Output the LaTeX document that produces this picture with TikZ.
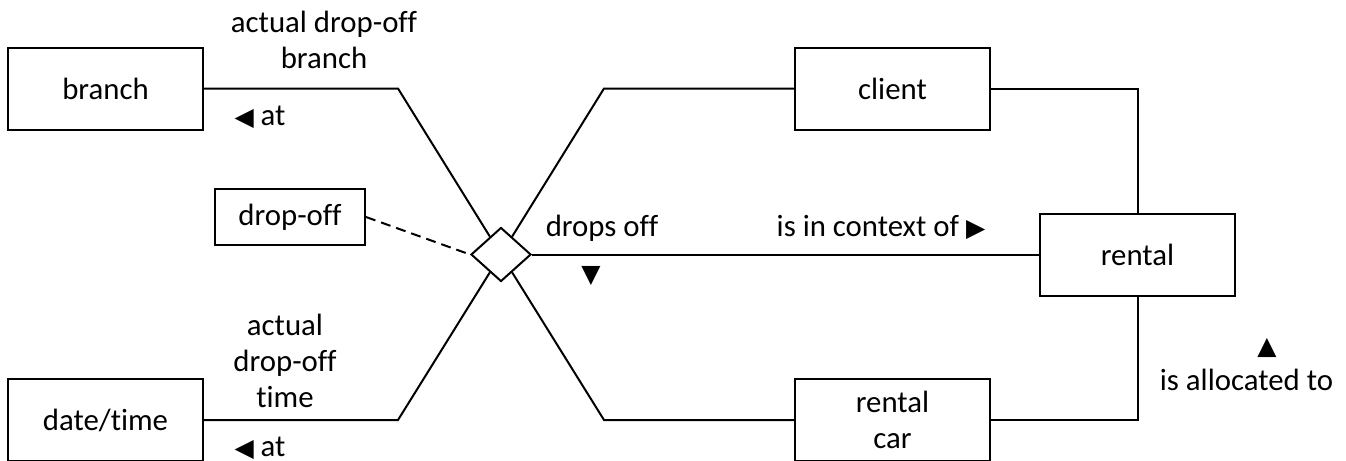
\documentclass[tikz,border=0pt]{standalone}
\usepackage{fontspec}
\setmainfont{Carlito}[Ligatures=NoCommon]
\newfontfamily\symfont{DejaVu Sans}
\usepackage{tikz}
\usetikzlibrary{shapes}
\usetikzlibrary{positioning}
\newcommand{\dirsym}[1]{{\fontsize{12.5}{13}\symfont #1}}

\begin{document}
\begin{tikzpicture}[x=0.5pt,y=-0.5pt,font=\fontsize{15.4}{18}\selectfont,
  entity/.style={draw,line width=1pt,minimum width=97.5pt,minimum height=41pt,inner sep=0pt,align=center},
  link/.style={line width=1pt}]
\useasboundingbox (0,0) rectangle (1346,461);
\draw (105.5,88.5) node[entity](branch){branch};
\draw (105.5,420) node[entity](datetime){date/time};
\draw (290,217) node[entity,minimum width=75pt,minimum height=28pt](dropoff){drop-off};
\draw (501,254.5) node[diamond,draw,line width=1pt,inner sep=0pt,minimum width=30pt,minimum height=27pt](dia){};
\draw (892.5,88.5) node[entity](client){client};
\draw (892.5,420) node[entity](rentalcar){rental\\car};
\draw (1137.5,254.5) node[entity](rental){rental};
\draw[link] (branch.east) -- ++(194,0) -- (dia);
\draw[link] (datetime.east) -- ++(194,0) -- (dia);
\draw[link] (client.west) -- ++(-190,0) -- (dia);
\draw[link] (rentalcar.west) -- ++(-190,0) -- (dia);
\draw[link] (dia) -- (rental);
\draw[link] (client.east) -| (rental.north);
\draw[link] (rentalcar.east) -| (rental.south);
\draw[link,dash pattern=on 5pt off 3pt] (dropoff.east) -- (dia.west);
\node[align=center] (branchrole) at (324,40) {actual drop-off\\branch};
\node (branchat) at (260,117) {\dirsym{◀} at};
\node[align=center] (timerole) at (285,361) {actual\\drop-off\\time};
\node (timeat) at (260,448) {\dirsym{◀} at};
\node (dropsoff) at (602,228) {drops off};
\node (dropsdir) at (591,276) {\dirsym{▼}};
\node (context) at (881,227) {is in context of \dirsym{▶}};
\node (allocdir) at (1267,348) {\dirsym{▲}};
\node (alloc) at (1246.5,380) {is allocated to};
\end{tikzpicture}
\end{document}
